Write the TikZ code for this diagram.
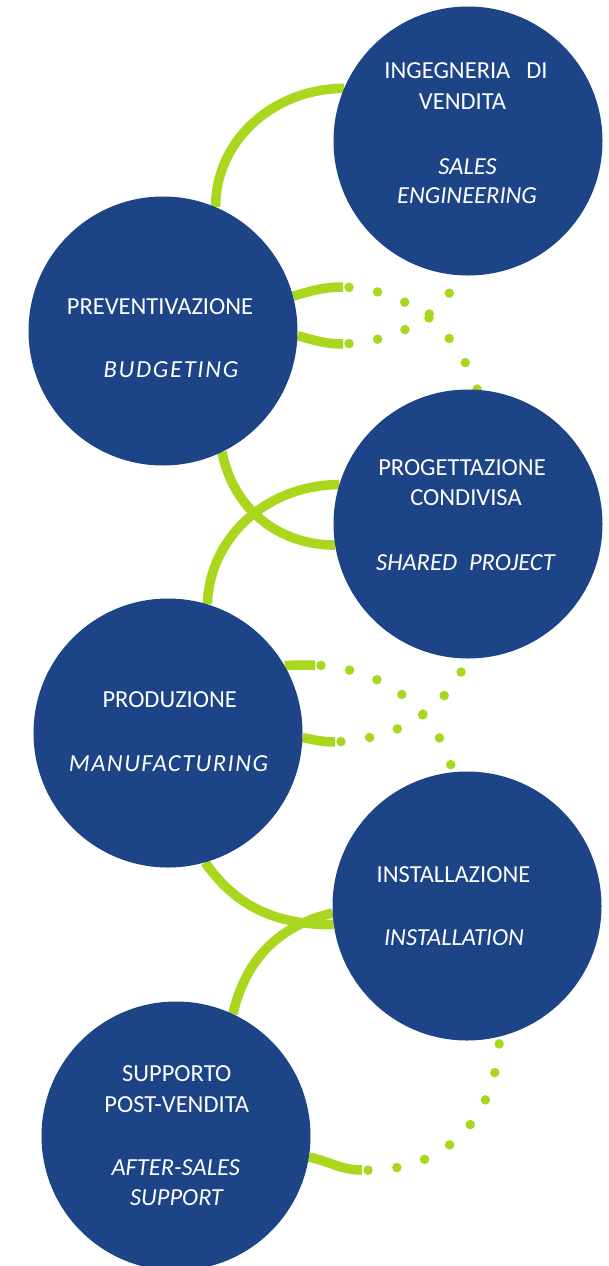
\documentclass[tikz,border=0pt]{standalone}
\usepackage{fontspec}
\setmainfont{Carlito}
\definecolor{bubblue}{RGB}{28,68,135}
\definecolor{lime}{RGB}{168,215,30}
\pgfdeclarelayer{bg}
\pgfdeclarelayer{lines}
\pgfsetlayers{bg,lines,main}
\begin{document}
\begin{tikzpicture}[x=1pt, y=-1pt,
  bub/.style={circle, fill=bubblue, draw=none, minimum size=269pt, inner sep=0pt},
  txt/.style={text=white, anchor=base, inner sep=0pt, font=\fontsize{24.5}{29}\selectfont},
  arcline/.style={draw=lime, line width=9.5pt},
  dotline/.style={draw=lime, line width=9.5pt, line cap=round, dash pattern=on 0pt off 29pt, dash phase=23pt}]
\path[use as bounding box] (0,0) rectangle (609,1266);
\begin{pgfonlayer}{bg}
  \fill[white] (0,0) rectangle (609,1266);
\end{pgfonlayer}

% circles
\node[bub] (c1) at (468,141) {};
\node[bub] (c2) at (163,331) {};
\node[bub] (c3) at (468,524) {};
\node[bub] (c4) at (168,733) {};
\node[bub] (c5) at (467,906) {};
\node[bub] (c6) at (176,1136) {};

% stub end coordinates
\coordinate (s1) at (343,287);
\coordinate (s2) at (343,344);
\coordinate (s3) at (315,665);
\coordinate (s4) at (335,742);
\coordinate (s5) at (362,1170);

\begin{pgfonlayer}{lines}
  % solid arcs
  \draw[arcline] (c2.67) to[out=90, in=180] (c1.157);
  \draw[arcline] (c2.-64) to[out=-79, in=180] (c3.189);
  \draw[arcline] (c4.73) to[out=88, in=180] (c3.163);
  \draw[arcline] (c4.-74) to[out=-55, in=180] (c5.188);
  \draw[arcline] (c6.65) to[out=77, in=193] (c5.183);
  % stubs
  \draw[arcline] (c2.15) to[out=16, in=180] (s1);
  \draw[arcline] (c2.-2) to[out=-15, in=180] (s2);
  \draw[arcline] (c4.30) to[out=3, in=180] (s3);
  \draw[arcline] (c4.-2) to[out=-10, in=180] (s4);
  \draw[arcline] (c6.-9) to[out=-12, in=180] (s5);
  % dotted continuations
  \draw[dotline] (s1) to[out=-2, in=110] (c3.86);
  \draw[dotline] (s2) to[out=3, in=-120] (c1.-93);
  \draw[dotline] (s3) to[out=-3, in=105] (c5.96);
  \draw[dotline] (s4) to[out=3, in=-115] (c3.-90);
  \draw[dotline] (s5) to[out=-2, in=-92, looseness=1.1] (c5.-76);
\end{pgfonlayer}

% texts
\node[txt] (t1a) at (466,78) {INGEGNERIA\hspace{16pt}DI};
\node[txt] (t1b) at (462.5,109) {VENDITA};
\node[txt] (t1c) at (467.5,174) {\itshape SALES};
\node[txt] (t1d) at (467,203) {\itshape ENGINEERING};

\node[txt] (t2a) at (160,314) {PREVENTIVAZIONE};
\node[txt] (t2b) at (171,377) {\addfontfeature{LetterSpace=7}\itshape BUDGETING};

\node[txt] (t3a) at (462,475.7) {PROGETTAZIONE};
\node[txt] (t3b) at (466,505.7) {CONDIVISA};
\node[txt] (t3c) at (465.5,570) {\itshape SHARED\hspace{12pt}PROJECT};

\node[txt] (t4a) at (169.7,707) {PRODUZIONE};
\node[txt] (t4b) at (168.5,771) {\addfontfeature{LetterSpace=6}\itshape MANUFACTURING};

\node[txt] (t5a) at (453.5,882.7) {INSTALLAZIONE};
\node[txt] (t5b) at (454,945.5) {\itshape INSTALLATION};

\node[txt] (t6a) at (176.7,1081.7) {SUPPORTO};
\node[txt] (t6b) at (176.7,1112.3) {POST-VENDITA};
\node[txt] (t6c) at (175.7,1175.7) {\itshape AFTER-SALES};
\node[txt] (t6d) at (176.5,1205.7) {\itshape SUPPORT};
\end{tikzpicture}
\end{document}
